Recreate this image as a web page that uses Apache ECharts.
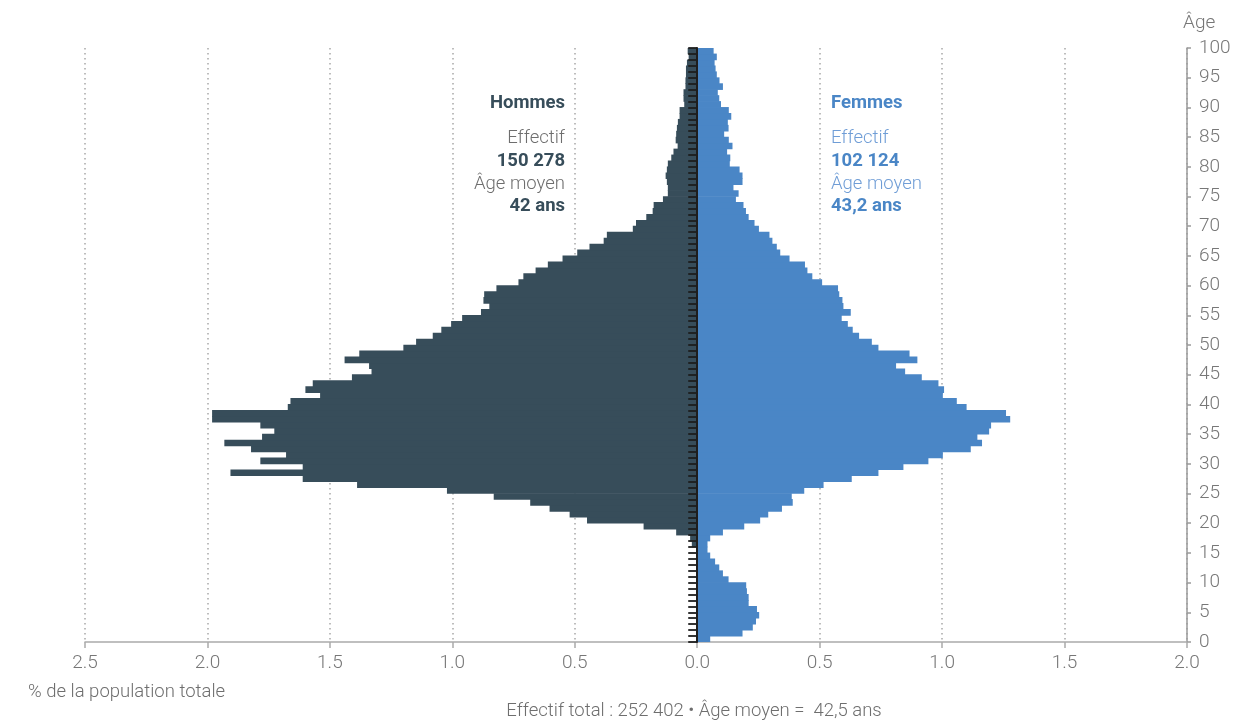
<!DOCTYPE html>
<html>
<head>
<meta charset="utf-8">
<script src="https://cdn.jsdelivr.net/npm/echarts@6/dist/echarts.min.js"></script>
<style>
  html, body { margin: 0; padding: 0; background: #ffffff; }
  #chart { width: 1256px; height: 722px; }
</style>
</head>
<body>
<div id="chart"></div>
<script>
// Age bands (one band per year of age, band "a" covers a..a+1)
const ages = [
  '0','1','2','3','4','5','6','7','8','9',
  '10','11','12','13','14','15','16','17','18','19',
  '20','21','22','23','24','25','26','27','28','29',
  '30','31','32','33','34','35','36','37','38','39',
  '40','41','42','43','44','45','46','47','48','49',
  '50','51','52','53','54','55','56','57','58','59',
  '60','61','62','63','64','65','66','67','68','69',
  '70','71','72','73','74','75','76','77','78','79',
  '80','81','82','83','84','85','86','87','88','89',
  '90','91','92','93','94','95','96','97','98','99'
];

// Share of total population (%), men, by age 0..99
const hommes = [
  0.004, 0.004, 0.004, 0.004, 0.004, 0.004, 0.004, 0.004, 0.004, 0.004,
  0.004, 0.004, 0.004, 0.004, 0.004, 0.005, 0.022, 0.029, 0.086, 0.219,
  0.450, 0.521, 0.603, 0.682, 0.831, 1.022, 1.389, 1.611, 1.906, 1.611,
  1.784, 1.679, 1.822, 1.931, 1.777, 1.727, 1.784, 1.981, 1.981, 1.672,
  1.661, 1.540, 1.600, 1.570, 1.410, 1.330, 1.340, 1.440, 1.380, 1.200,
  1.148, 1.080, 1.045, 1.005, 0.960, 0.883, 0.849, 0.873, 0.870, 0.820,
  0.730, 0.710, 0.660, 0.610, 0.550, 0.490, 0.440, 0.382, 0.369, 0.263,
  0.250, 0.208, 0.182, 0.178, 0.140, 0.120, 0.120, 0.124, 0.129, 0.124,
  0.120, 0.106, 0.097, 0.080, 0.088, 0.086, 0.083, 0.079, 0.072, 0.072,
  0.053, 0.056, 0.056, 0.048, 0.048, 0.046, 0.046, 0.042, 0.035, 0.039
];

// Share of total population (%), women, by age 0..99
const femmes = [
  0.053, 0.185, 0.227, 0.240, 0.253, 0.244, 0.210, 0.210, 0.203, 0.200,
  0.128, 0.105, 0.090, 0.073, 0.053, 0.042, 0.042, 0.053, 0.105, 0.192,
  0.257, 0.290, 0.346, 0.390, 0.386, 0.437, 0.516, 0.631, 0.740, 0.842,
  0.944, 1.003, 1.117, 1.163, 1.144, 1.192, 1.200, 1.278, 1.261, 1.100,
  1.060, 1.003, 1.008, 0.985, 0.917, 0.849, 0.812, 0.899, 0.867, 0.740,
  0.713, 0.661, 0.635, 0.615, 0.590, 0.627, 0.597, 0.593, 0.580, 0.575,
  0.510, 0.470, 0.450, 0.440, 0.377, 0.339, 0.325, 0.307, 0.295, 0.252,
  0.234, 0.210, 0.199, 0.189, 0.158, 0.169, 0.148, 0.185, 0.185, 0.173,
  0.133, 0.135, 0.122, 0.144, 0.129, 0.110, 0.128, 0.125, 0.139, 0.129,
  0.097, 0.090, 0.084, 0.105, 0.091, 0.080, 0.075, 0.071, 0.080, 0.067
];

// Summary figures
const blocHommes = ['Hommes', 'Effectif', '150 278', 'Âge moyen', '42 ans'];
const blocFemmes = ['Femmes', 'Effectif', '102 124', 'Âge moyen', '43,2 ans'];
const noteAxe = '% de la population totale';
const noteTotal = 'Effectif total : 252 402 • Âge moyen =  42,5 ans';

const COL_H = '#374d5a';
const COL_F = '#4a86c6';
const GREY = '#777777';
const FONT = 'Roboto, "Noto Sans", sans-serif';

const chart = echarts.init(document.getElementById('chart'), null, { renderer: 'canvas' });

function bloc(lines, x, align, strong, soft) {
  const ys = [103, 138, 161, 184, 206];
  const weights = [700, 300, 700, 300, 700];
  return lines.map((t, i) => ({
    type: 'text',
    x: x,
    y: ys[i],
    z: 20,
    style: {
      text: t,
      align: align,
      verticalAlign: 'middle',
      fill: (i % 2 === 0) ? strong : soft,
      font: weights[i] + ' 18.5px ' + FONT
    }
  }));
}

const option = {
  animation: false,
  backgroundColor: '#ffffff',
  textStyle: { fontFamily: FONT },
  grid: { left: 85, right: 69, top: 48, bottom: 80, containLabel: false },
  xAxis: {
    type: 'value',
    min: -2.5,
    max: 2.0,
    interval: 0.5,
    axisLine: { show: true, onZero: false, lineStyle: { color: '#aaaaaa', width: 1.5 } },
    axisTick: { show: true, length: 6, lineStyle: { color: '#aaaaaa', width: 1.5 } },
    axisLabel: {
      color: GREY, fontSize: 19, fontWeight: 300, fontFamily: FONT, margin: 12,
      formatter: v => Math.abs(v).toFixed(1)
    },
    splitLine: { show: true, lineStyle: { color: '#a8a8a8', width: 1.5, type: [1.5, 3.5] } }
  },
  yAxis: [
    {
      // central age spine at x = 0, one tick per year
      type: 'category',
      data: ages,
      position: 'left',
      z: 10,
      boundaryGap: true,
      axisLine: { show: true, onZero: true, lineStyle: { color: '#1e1e1e', width: 2 } },
      axisTick: { show: true, interval: 0, length: 9, inside: false, lineStyle: { color: '#1e1e1e', width: 1.8 } },
      axisLabel: { show: false },
      splitLine: { show: false }
    },
    {
      // age scale on the right
      type: 'value',
      position: 'right',
      min: 0,
      max: 100,
      interval: 5,
      axisLine: { show: true, onZero: false, lineStyle: { color: '#9a9a9a', width: 1.5 } },
      axisTick: { show: true, length: 4, lineStyle: { color: '#9a9a9a', width: 1.5 } },
      axisLabel: { color: GREY, fontSize: 19, fontWeight: 300, fontFamily: FONT, margin: 12 },
      splitLine: { show: false }
    }
  ],
  series: [
    {
      name: 'Hommes',
      type: 'bar',
      stack: 'pyramide',
      yAxisIndex: 0,
      barWidth: '112%',
      itemStyle: { color: COL_H },
      data: hommes.map(v => -v)
    },
    {
      name: 'Femmes',
      type: 'bar',
      stack: 'pyramide',
      yAxisIndex: 0,
      barWidth: '112%',
      itemStyle: { color: COL_F },
      data: femmes.slice()
    }
  ],
  graphic: [
    ...bloc(blocHommes, 565, 'right', COL_H, '#6e6e6e'),
    ...bloc(blocFemmes, 831, 'left', COL_F, '#6f9dd6'),
    {
      type: 'text', x: 1183, y: 23, z: 20,
      style: { text: 'Âge', align: 'left', verticalAlign: 'middle', fill: GREY, font: '300 19px ' + FONT }
    },
    {
      type: 'text', x: 28, y: 692, z: 20,
      style: { text: noteAxe, align: 'left', verticalAlign: 'middle', fill: '#6e6e6e', font: '300 18.5px ' + FONT }
    },
    {
      type: 'text', x: 694, y: 711, z: 20,
      style: { text: noteTotal, align: 'center', verticalAlign: 'middle', fill: '#6e6e6e', font: '300 18.5px ' + FONT }
    }
  ]
};

chart.setOption(option);
</script>
</body>
</html>
